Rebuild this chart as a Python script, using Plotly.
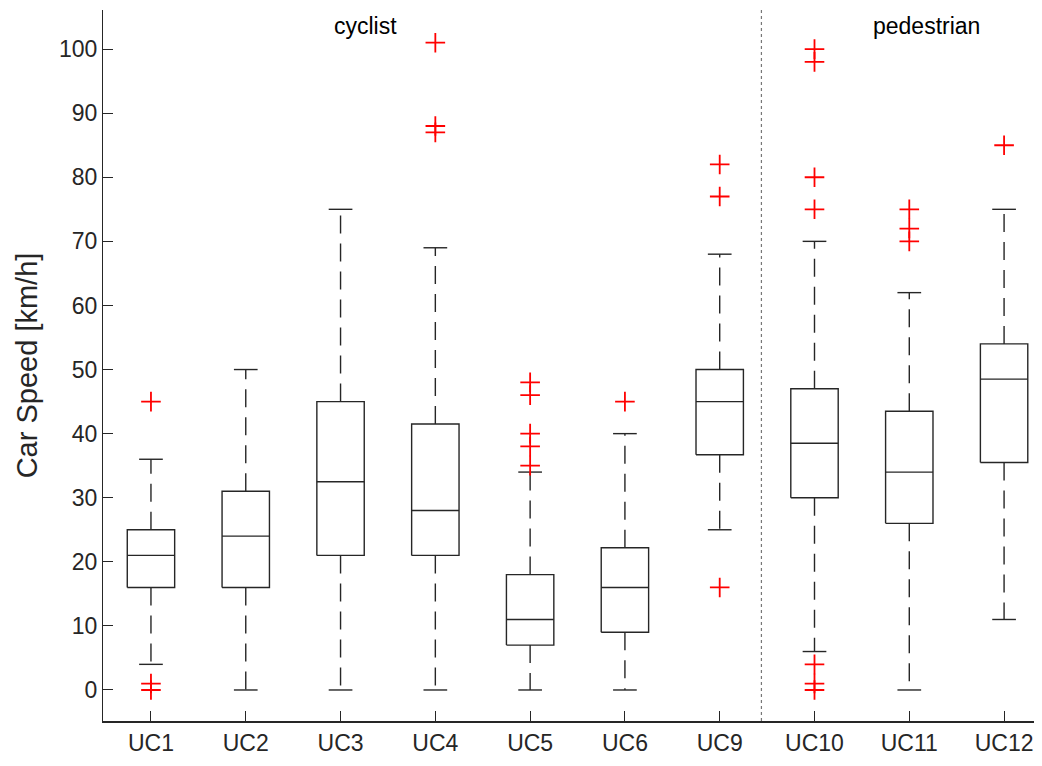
import plotly.graph_objects as go

# box plot summary per use case
cases = ["UC1", "UC2", "UC3", "UC4", "UC5", "UC6", "UC9", "UC10", "UC11", "UC12"]
lower = [4, 0, 0, 0, 0, 0, 25, 6, 0, 11]
q1 = [16, 16, 21, 21, 7, 9, 36.7, 30, 26, 35.5]
median = [21, 24, 32.5, 28, 11, 16, 45, 38.5, 34, 48.5]
q3 = [25, 31, 45, 41.5, 18, 22.2, 50, 47, 43.5, 54]
upper = [36, 50, 75, 69, 34, 40, 68, 70, 62, 75]
outliers = [
    [45, 1, 0],
    [],
    [],
    [101, 88, 87],
    [48, 46, 40, 38, 35],
    [45],
    [82, 77, 16],
    [100, 98, 80, 75, 4, 1, 0],
    [75, 72, 70],
    [85],
]

groups = ["cyclist", "pedestrian"]
group_x = [3.26, 9.18]
split_x = 7.44

BOX_W = 0.25   # half width of box
CAP_W = 0.125  # half width of whisker cap
INK = "#262626"
FONT = "Liberation Sans, Arial, sans-serif"

bx, by, mx, my, wx, wy, cx, cy, ox, oy = [], [], [], [], [], [], [], [], [], []
for i in range(len(cases)):
    p = i + 1
    bx += [p - BOX_W, p + BOX_W, p + BOX_W, p - BOX_W, p - BOX_W, None]
    by += [q1[i], q1[i], q3[i], q3[i], q1[i], None]
    mx += [p - BOX_W, p + BOX_W, None]
    my += [median[i], median[i], None]
    wx += [p, p, None, p, p, None]
    wy += [q3[i], upper[i], None, q1[i], lower[i], None]
    cx += [p - CAP_W, p + CAP_W, None, p - CAP_W, p + CAP_W, None]
    cy += [upper[i], upper[i], None, lower[i], lower[i], None]
    for v in outliers[i]:
        ox.append(p)
        oy.append(v)

fig = go.Figure()
fig.add_trace(go.Scatter(x=wx, y=wy, mode="lines",
                         line=dict(color=INK, width=1.4, dash="18px,10px")))
fig.add_trace(go.Scatter(x=cx, y=cy, mode="lines", line=dict(color=INK, width=1.4)))
fig.add_trace(go.Scatter(x=bx, y=by, mode="lines", line=dict(color=INK, width=1.4)))
fig.add_trace(go.Scatter(x=mx, y=my, mode="lines", line=dict(color=INK, width=1.4)))
fig.add_trace(go.Scatter(x=ox, y=oy, mode="markers",
                         marker=dict(symbol="cross-thin-open", size=14, color="red",
                                     line=dict(color="red", width=1.8))))

fig.add_vline(x=split_x, line=dict(color="#777777", width=1.2, dash="dot"))

for name, gx in zip(groups, group_x):
    fig.add_annotation(x=gx, y=103.6, text=name, showarrow=False,
                       font=dict(size=23, color="black", family=FONT))

# page body has an 8px margin, so the figure is 8px smaller and top/left margins shifted
fig.update_layout(
    width=1034, height=758,
    margin=dict(l=95, r=0, t=2, b=45),
    plot_bgcolor="white", paper_bgcolor="white",
    showlegend=False,
    font=dict(family=FONT, color=INK),
)
fig.update_xaxes(
    range=[0.494, 10.40], tickvals=list(range(1, len(cases) + 1)), ticktext=cases,
    showgrid=False, zeroline=False, showline=True, linecolor=INK, linewidth=2,
    ticks="inside", ticklen=10, tickcolor=INK, tickfont=dict(size=23, color=INK),
)
fig.update_yaxes(
    range=[-4.84, 106.1], tickvals=list(range(0, 101, 10)),
    showgrid=False, zeroline=False, showline=True, linecolor=INK, linewidth=1.2,
    ticks="inside", ticklen=10, tickcolor=INK, tickfont=dict(size=23, color=INK),
    title=dict(text="Car Speed [km/h]", font=dict(size=29, color=INK), standoff=12),
)

fig.write_html("out.html")
